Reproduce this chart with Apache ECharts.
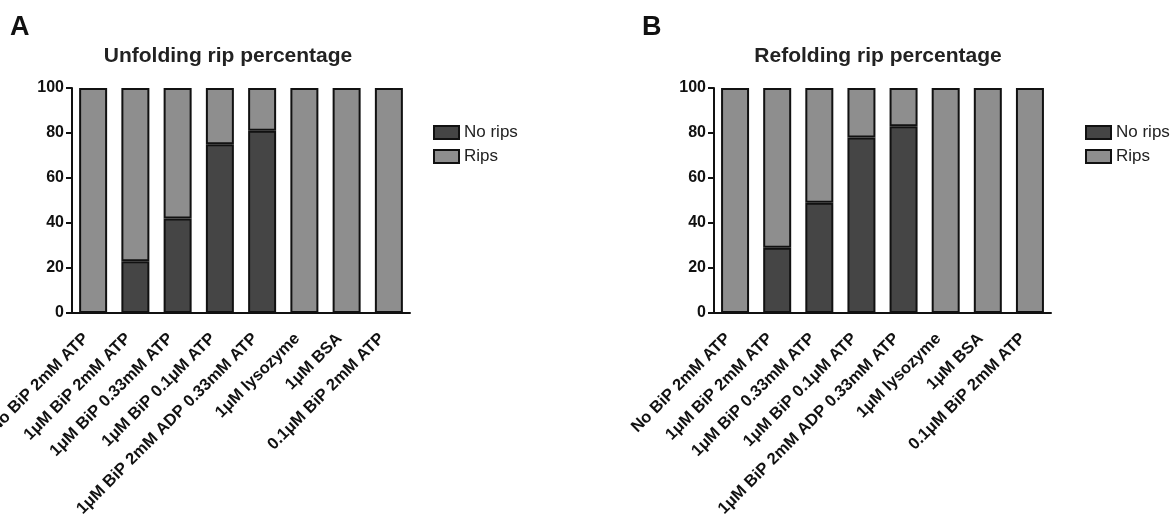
<!DOCTYPE html>
<html>
<head>
<meta charset="utf-8">
<script src="https://cdn.jsdelivr.net/npm/echarts@6/dist/echarts.min.js"></script>
<style>
html,body{margin:0;padding:0;background:#fff;}
#chart{width:1173px;height:518px;}
</style>
</head>
<body>
<div id="chart"></div>
<script>
const categories = ['No BiP 2mM ATP','1μM BiP 2mM ATP','1μM BiP 0.33mM ATP','1μM BiP 0.1μM ATP','1μM BiP 2mM ADP 0.33mM ATP','1μM lysozyme','1μM BSA','0.1μM BiP 2mM ATP'];
const unfoldNoRips = [0, 23, 42, 75, 81, 0, 0, 0];
const unfoldRips   = [100, 77, 58, 25, 19, 100, 100, 100];
const refoldNoRips = [0, 29, 49, 78, 83, 0, 0, 0];
const refoldRips   = [100, 71, 51, 22, 17, 100, 100, 100];
const yTicks = [0, 20, 40, 60, 80, 100];
const seriesNames = ['No rips', 'Rips'];
const titles = ['Unfolding rip percentage', 'Refolding rip percentage'];
const panels = ['A', 'B'];

const FONT = '"Liberation Sans", Arial, Helvetica, sans-serif';
const DARK = '#454545';
const LIGHT = '#8e8e8e';
const AX = '#111';

const chart = echarts.init(document.getElementById('chart'));

function xAxis(idx){
  return {
    type:'category', gridIndex:idx, data:categories,
    axisLine:{lineStyle:{color:AX,width:2}},
    axisTick:{alignWithLabel:true,length:6,lineStyle:{color:AX,width:2}},
    axisLabel:{rotate:45,interval:0,margin:16,padding:[0,10,0,0],color:'#111',fontFamily:FONT,fontWeight:'bold',fontSize:16.5}
  };
}
function yAxis(idx){
  return {
    type:'value', gridIndex:idx, min:yTicks[0], max:yTicks[yTicks.length-1], interval:yTicks[1]-yTicks[0],
    axisLine:{show:true,lineStyle:{color:AX,width:2}},
    axisTick:{show:true,length:6,lineStyle:{color:AX,width:2}},
    splitLine:{show:false},
    axisLabel:{margin:8,color:'#111',fontFamily:FONT,fontWeight:'bold',fontSize:16}
  };
}
function bar(name, data, idx, color){
  return {
    name, type:'bar', stack:'s'+idx, xAxisIndex:idx, yAxisIndex:idx, data,
    barWidth:28,
    itemStyle:{color, borderColor:'#111', borderWidth:2},
    emphasis:{disabled:true}
  };
}

chart.setOption({
  animation:false,
  title:[
    {text:panels[0],left:10,top:14,padding:0,textStyle:{fontFamily:FONT,fontWeight:'bold',fontSize:27,color:'#111'}},
    {text:panels[1],left:642,top:14,padding:0,textStyle:{fontFamily:FONT,fontWeight:'bold',fontSize:27,color:'#111'}},
    {text:titles[0],left:228,top:46,padding:0,textAlign:'center',textStyle:{fontFamily:FONT,fontWeight:'bold',fontSize:21,color:'#222'}},
    {text:titles[1],left:878,top:46,padding:0,textAlign:'center',textStyle:{fontFamily:FONT,fontWeight:'bold',fontSize:21,color:'#222'}}
  ],
  legend:[
    {orient:'vertical',left:433,top:124,padding:0,itemWidth:25,itemHeight:13,itemGap:7,icon:'rect',data:seriesNames,
     textStyle:{fontFamily:FONT,fontSize:17,color:'#222'}},
    {orient:'vertical',left:1085,top:124,padding:0,itemWidth:25,itemHeight:13,itemGap:7,icon:'rect',data:seriesNames,
     textStyle:{fontFamily:FONT,fontSize:17,color:'#222'}}
  ],
  grid:[
    {left:72,top:88,width:338,height:225,outerBoundsMode:'none',containLabel:false},
    {left:714,top:88,width:337,height:225,outerBoundsMode:'none',containLabel:false}
  ],
  xAxis:[xAxis(0),xAxis(1)],
  yAxis:[yAxis(0),yAxis(1)],
  series:[
    bar(seriesNames[0], unfoldNoRips, 0, DARK),
    bar(seriesNames[1], unfoldRips, 0, LIGHT),
    bar(seriesNames[0], refoldNoRips, 1, DARK),
    bar(seriesNames[1], refoldRips, 1, LIGHT)
  ]
});
</script>
</body>
</html>
